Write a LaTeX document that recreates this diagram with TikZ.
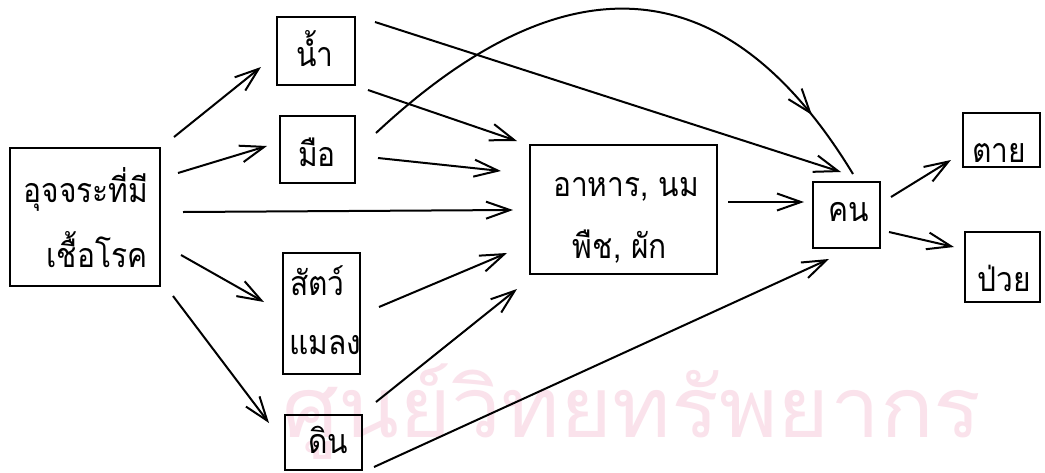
\documentclass[tikz,border=0pt]{standalone}
\usepackage{fontspec}
\newfontfamily\thaifont[Script=Thai, FakeStretch=0.88]{Loma}
\newfontfamily\wmfont[Script=Thai, FakeStretch=1.06]{Loma}
\usetikzlibrary{arrows.meta,decorations.markings}
\definecolor{wmpink}{RGB}{250,226,235}
\begin{document}
\begin{tikzpicture}[x=1pt,y=-1pt,
  box/.style={draw, line width=2pt, inner sep=0pt},
  lbl/.style={font=\thaifont\fontsize{34}{40}\selectfont, inner sep=0pt, anchor=base},
  tipbarb/.tip={Straight Barb[length=24pt,width=17pt]},
  arr/.style={line width=2pt, -tipbarb},
]
\useasboundingbox (0,0) rectangle (1045,472);
\fill[white] (0,0) rectangle (1045,472);

% watermark
\node[font=\wmfont\fontsize{84}{92}\selectfont, text=wmpink, inner sep=0pt, text depth=14pt, anchor=base west] (wm) at (282,437) {ศูนย์วิทยทรัพยากร};

% boxes
\node[box, minimum width=150pt, minimum height=138pt] (src) at (85,217) {};
\node[box, minimum width=78pt, minimum height=68pt] (water) at (316,51) {};
\node[box, minimum width=75pt, minimum height=67pt] (hand) at (317.5,149.5) {};
\node[box, minimum width=77pt, minimum height=121pt] (animal) at (321.5,313.5) {};
\node[box, minimum width=77pt, minimum height=55pt] (soil) at (323.5,442.5) {};
\node[box, minimum width=187pt, minimum height=129pt] (food) at (623.5,209.5) {};
\node[box, minimum width=67pt, minimum height=66pt] (person) at (846.5,215) {};
\node[box, minimum width=77pt, minimum height=54pt] (dead) at (1001.5,140) {};
\node[box, minimum width=75pt, minimum height=70pt] (sick) at (1002.5,267) {};

% texts
\node[lbl] (srcA) at (86,202) {อุจจระที่มี};
\node[lbl] (srcB) at (97,267) {เชื้อโรค};
\node[lbl] (waterT) at (315,66) {น้ำ};
\node[lbl] (handT) at (317,166) {มือ};
\node[lbl, anchor=base west] (animalA) at (290,295) {สัตว์};
\node[lbl, anchor=base west] (animalB) at (289,354) {แมลง};
\node[lbl] (soilT) at (328,453) {ดิน};
\node[lbl] (foodA) at (626,196) {อาหาร, นม};
\node[lbl] (foodB) at (620,258) {พืช, ผัก};
\node[lbl] (personT) at (849,221) {คน};
\node[lbl] (deadT) at (999,162) {ตาย};
\node[lbl] (sickT) at (1004,291) {ป่วย};

% connectors
\draw[arr] ([shift={(13,-10)}]src.north east) -- ([shift={(-15,16)}]water.west);
\draw[arr] ([shift={(17,-44)}]src.east) -- ([shift={(-12,-3.5)}]hand.west);
\draw[arr] ([shift={(22,-5)}]src.east) -- ([shift={(-16,0.5)}]food.west);
\draw[arr] ([shift={(20,38)}]src.east) -- ([shift={(-18,-11.5)}]animal.west);
\draw[arr] ([shift={(12,9)}]src.south east) -- ([shift={(-15,9)}]soil.north west);
\draw[arr] ([shift={(19,6)}]water.north east) -- ([shift={(29,-9)}]person.north west);
\draw[arr] ([shift={(12,4)}]water.south east) -- ([shift={(-12,-3)}]food.north west);
\draw[arr] ([shift={(22,8.5)}]hand.east) -- ([shift={(-28,27)}]food.north west);
\draw[line width=2pt, postaction={decorate},
  decoration={markings, mark=at position -72pt with {\arrow{tipbarb}}}]
  ([shift={(20,-16.5)}]hand.east) .. controls (585,-62) and (740,-12) .. ([shift={(6.5,-7)}]person.north);
\draw[arr] ([shift={(10,-7.5)}]food.east) -- ([shift={(-8,-13)}]person.west);
\draw[arr] ([shift={(18,-6.5)}]animal.east) -- ([shift={(-22,-22)}]food.south west);
\draw[arr] ([shift={(13,-12)}]soil.north east) -- ([shift={(-12,14)}]food.south west);
\draw[arr] ([shift={(11,24.5)}]soil.east) -- ([shift={(17,10)}]person.south west);
\draw[arr] ([shift={(10,-18)}]person.east) -- ([shift={(-11,20)}]dead.west);
\draw[arr] ([shift={(8,17)}]person.east) -- ([shift={(-10,-20)}]sick.west);
\end{tikzpicture}
\end{document}
